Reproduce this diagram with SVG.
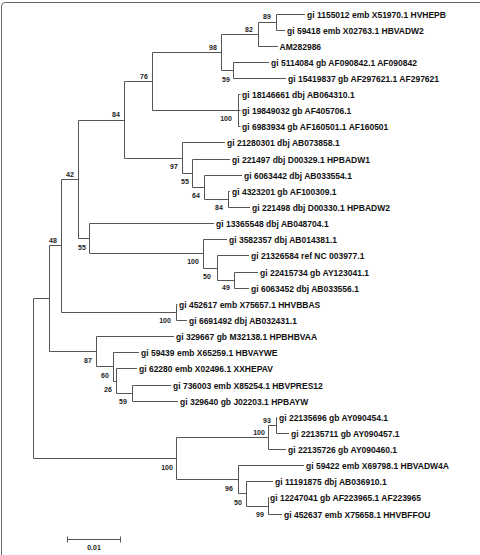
<svg xmlns="http://www.w3.org/2000/svg" width="480" height="555" viewBox="0 0 480 555">
<style>
.br{fill:none;stroke:#555;stroke-width:1}
.lf{font-family:"Liberation Sans",Arial,sans-serif;font-weight:bold;font-size:8.5px;fill:#111}
.bs{font-family:"Liberation Sans",Arial,sans-serif;font-weight:bold;font-size:7px;fill:#222;text-anchor:middle}
</style>
<rect width="480" height="555" fill="#fff"/>
<path d="M1.5,555 V6 Q1.5,2.5 5,2.5 H480" fill="none" stroke="#666" stroke-width="1"/>
<g id="branches" class="br">
<path d="M33.5,298.5V458.5M33.5,298.5H49.5M33.5,458.5H176.5"/>
<path d="M49.5,245.5V351.5M49.5,245.5H61.5M49.5,351.5H96.5"/>
<path d="M61.5,179.5V312.5M61.5,179.5H78.5M61.5,312.5H176.5"/>
<path d="M78.5,120.5V238.5M78.5,120.5H124.5M78.5,238.5H89.5"/>
<path d="M124.5,81.5V158.5M124.5,81.5H152.5M124.5,158.5H182.5"/>
<path d="M152.5,52.5V110.5M152.5,52.5H221.5M152.5,110.5H238.5"/>
<path d="M221.5,34.5V70.5M221.5,34.5H258.5M221.5,70.5H233.5"/>
<path d="M258.5,22.5V46.5M258.5,22.5H276.5M258.5,46.5H278"/>
<path d="M276.5,14.5V30.5M276.5,14.5H305M276.5,30.5H285"/>
<path d="M233.5,62.5V78.5M233.5,62.5H269M233.5,78.5H286"/>
<path d="M238.5,94.5V126.5M238.5,94.5H240.5M238.5,110.5H240.5M238.5,126.5H240.5"/>
<path d="M182.5,142.5V173.5M182.5,142.5H225M182.5,173.5H192.5"/>
<path d="M192.5,159.5V187.5M192.5,159.5H230M192.5,187.5H204.5"/>
<path d="M204.5,175.5V199.5M204.5,175.5H242M204.5,199.5H228.5"/>
<path d="M228.5,191.5V207.5M228.5,191.5H230M228.5,207.5H250"/>
<path d="M89.5,223.5V253.5M89.5,223.5H214M89.5,253.5H203.5"/>
<path d="M203.5,239.5V268.5M203.5,239.5H227M203.5,268.5H217.5"/>
<path d="M217.5,255.5V280.5M217.5,255.5H249M217.5,280.5H234.5"/>
<path d="M234.5,272.5V288.5M234.5,272.5H258M234.5,288.5H249"/>
<path d="M176.5,304.5V320.5M176.5,304.5H177.5M176.5,320.5H187"/>
<path d="M96.5,336.5V366.5M96.5,336.5H174M96.5,366.5H113.5"/>
<path d="M113.5,352.5V381.5M113.5,352.5H139M113.5,381.5H116.5"/>
<path d="M116.5,368.5V393.5M116.5,368.5H137M116.5,393.5H132.5"/>
<path d="M132.5,385.5V401.5M132.5,385.5H171M132.5,401.5H178"/>
<path d="M176.5,437.5V479.5M176.5,437.5H268.5M176.5,479.5H238.5"/>
<path d="M268.5,425.5V449.5M268.5,425.5H276.5M268.5,449.5H286"/>
<path d="M276.5,417.5V433.5M276.5,417.5H277M276.5,433.5H289"/>
<path d="M238.5,465.5V493.5M238.5,465.5H304M238.5,493.5H246.5"/>
<path d="M246.5,481.5V506.5M246.5,481.5H273M246.5,506.5H268.5"/>
<path d="M268.5,497.5V514.5M268.5,497.5H269M268.5,514.5H282"/>
</g>
<g id="scale-bar">
<path class="br" d="M67.5,539.5H120.5M67.5,536.5V542.5M120.5,536.5V542.5"/>
<text class="bs" x="94" y="549.5">0.01</text>
</g>
<g id="bootstrap">
<g id="n89"><text class="bs" x="267" y="18.5">89</text></g>
<g id="n82"><text class="bs" x="249" y="31.5">82</text></g>
<g id="n98"><text class="bs" x="213" y="49.5">98</text></g>
<g id="n59a"><text class="bs" x="226" y="81.5">59</text></g>
<g id="n100a"><text class="bs" x="226" y="120.5">100</text></g>
<g id="n76"><text class="bs" x="144" y="78.5">76</text></g>
<g id="n84a"><text class="bs" x="116" y="116.5">84</text></g>
<g id="n97"><text class="bs" x="174" y="168.5">97</text></g>
<g id="n55a"><text class="bs" x="185" y="183.5">55</text></g>
<g id="n64"><text class="bs" x="196" y="197.5">64</text></g>
<g id="n84b"><text class="bs" x="219" y="209.5">84</text></g>
<g id="n42"><text class="bs" x="70" y="176.5">42</text></g>
<g id="n55b"><text class="bs" x="82" y="249.5">55</text></g>
<g id="n100b"><text class="bs" x="193" y="263.5">100</text></g>
<g id="n50a"><text class="bs" x="207" y="278.5">50</text></g>
<g id="n49"><text class="bs" x="226" y="289.5">49</text></g>
<g id="n48"><text class="bs" x="53" y="242.5">48</text></g>
<g id="n100c"><text class="bs" x="165" y="322.5">100</text></g>
<g id="n87"><text class="bs" x="88" y="362.5">87</text></g>
<g id="n60"><text class="bs" x="105" y="377.5">60</text></g>
<g id="n26"><text class="bs" x="108" y="391.5">26</text></g>
<g id="n59b"><text class="bs" x="123" y="403.5">59</text></g>
<g id="n100e"><text class="bs" x="167" y="469.5">100</text></g>
<g id="n100d"><text class="bs" x="259" y="434.5">100</text></g>
<g id="n93"><text class="bs" x="267" y="422.5">93</text></g>
<g id="n96"><text class="bs" x="229" y="490.5">96</text></g>
<g id="n50b"><text class="bs" x="238" y="504.5">50</text></g>
<g id="n99"><text class="bs" x="260" y="516.5">99</text></g>
</g>
<g id="leaves">
<g id="leaf0"><text class="lf" x="307" y="17.5">gi 1155012 emb X51970.1 HVHEPB</text></g>
<g id="leaf1"><text class="lf" x="287" y="33.5">gi 59418 emb X02763.1 HBVADW2</text></g>
<g id="leaf2"><text class="lf" x="279.5" y="49.5">AM282986</text></g>
<g id="leaf3"><text class="lf" x="271" y="65.5">gi 5114084 gb AF090842.1 AF090842</text></g>
<g id="leaf4"><text class="lf" x="288" y="81.5">gi 15419837 gb AF297621.1 AF297621</text></g>
<g id="leaf5"><text class="lf" x="242" y="97.5">gi 18146661 dbj AB064310.1</text></g>
<g id="leaf6"><text class="lf" x="242" y="113.5">gi 19849032 gb AF405706.1</text></g>
<g id="leaf7"><text class="lf" x="242" y="129.5">gi 6983934 gb AF160501.1 AF160501</text></g>
<g id="leaf8"><text class="lf" x="227" y="145.5">gi 21280301 dbj AB073858.1</text></g>
<g id="leaf9"><text class="lf" x="232" y="162.5">gi 221497 dbj D00329.1 HPBADW1</text></g>
<g id="leaf10"><text class="lf" x="244" y="178.5">gi 6063442 dbj AB033554.1</text></g>
<g id="leaf11"><text class="lf" x="232" y="194.5">gi 4323201 gb AF100309.1</text></g>
<g id="leaf12"><text class="lf" x="252" y="210.5">gi 221498 dbj D00330.1 HPBADW2</text></g>
<g id="leaf13"><text class="lf" x="216" y="226.5">gi 13365548 dbj AB048704.1</text></g>
<g id="leaf14"><text class="lf" x="229" y="242.5">gi 3582357 dbj AB014381.1</text></g>
<g id="leaf15"><text class="lf" x="251" y="258.5">gi 21326584 ref NC 003977.1</text></g>
<g id="leaf16"><text class="lf" x="260" y="275.5">gi 22415734 gb AY123041.1</text></g>
<g id="leaf17"><text class="lf" x="251" y="291.5">gi 6063452 dbj AB033556.1</text></g>
<g id="leaf18"><text class="lf" x="179" y="307.5">gi 452617 emb X75657.1 HHVBBAS</text></g>
<g id="leaf19"><text class="lf" x="189" y="323.5">gi 6691492 dbj AB032431.1</text></g>
<g id="leaf20"><text class="lf" x="176" y="339.5">gi 329667 gb M32138.1 HPBHBVAA</text></g>
<g id="leaf21"><text class="lf" x="141" y="355.5">gi 59439 emb X65259.1 HBVAYWE</text></g>
<g id="leaf22"><text class="lf" x="139" y="371.5">gi 62280 emb X02496.1 XXHEPAV</text></g>
<g id="leaf23"><text class="lf" x="173" y="388.5">gi 736003 emb X85254.1 HBVPRES12</text></g>
<g id="leaf24"><text class="lf" x="180" y="404.5">gi 329640 gb J02203.1 HPBAYW</text></g>
<g id="leaf25"><text class="lf" x="279" y="420.5">gi 22135696 gb AY090454.1</text></g>
<g id="leaf26"><text class="lf" x="291" y="436.5">gi 22135711 gb AY090457.1</text></g>
<g id="leaf27"><text class="lf" x="288" y="452.5">gi 22135726 gb AY090460.1</text></g>
<g id="leaf28"><text class="lf" x="306" y="468.5">gi 59422 emb X69798.1 HBVADW4A</text></g>
<g id="leaf29"><text class="lf" x="275" y="484.5">gi 11191875 dbj AB036910.1</text></g>
<g id="leaf30"><text class="lf" x="270" y="500.5">gi 12247041 gb AF223965.1 AF223965</text></g>
<g id="leaf31"><text class="lf" x="284" y="517.5">gi 452637 emb X75658.1 HHVBFFOU</text></g>
</g>
</svg>
